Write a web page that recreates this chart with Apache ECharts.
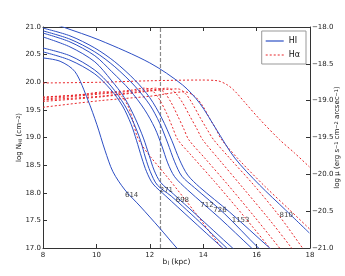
<!DOCTYPE html>
<html><head><meta charset="utf-8">
<script src="https://cdn.jsdelivr.net/npm/echarts@6/dist/echarts.min.js"></script>
<style>html,body{margin:0;padding:0;background:#fff}#c{width:345px;height:276px}</style>
</head><body><div id="c"></div>
<script>
// ---- data (b_l in kpc, log N_HI / log mu) ----
const xTicks = [8, 10, 12, 14, 16, 18];
const hi614 = [[8,20.44],[8.64,20.38],[9.20,20.19],[9.68,19.68],[10.02,19.23],[10.32,18.77],[10.62,18.38],[11.07,18.05],[11.63,17.76],[12.37,17.36],[13.01,17.00],[13.4,16.8]];
const hi271 = [[8,20.55],[9.01,20.40],[9.94,20.15],[10.55,19.86],[10.98,19.57],[11.30,19.24],[11.50,18.95],[11.70,18.63],[11.88,18.38],[12.12,18.16],[12.60,17.94],[13.50,17.54],[14.73,17.00],[15.1,16.85]];
const hi698 = [[8,20.62],[9.01,20.48],[9.94,20.22],[10.55,19.93],[11.05,19.59],[11.38,19.28],[11.65,18.95],[11.84,18.63],[12.02,18.38],[12.28,18.14],[12.80,17.94],[13.22,17.76],[13.87,17.47],[14.88,17.00],[15.2,16.87]];
const hiX = [[8,20.82],[9.01,20.64],[9.94,20.37],[10.55,20.04],[11.05,19.72],[11.45,19.35],[11.76,18.99],[11.98,18.67],[12.16,18.41],[12.40,18.19],[12.88,17.98],[13.70,17.62],[15.10,17.00],[15.4,16.88]];
const hi712 = [[8,20.89],[9.01,20.73],[9.94,20.48],[10.58,20.19],[11.25,19.86],[11.81,19.50],[12.19,19.17],[12.45,18.85],[12.67,18.54],[12.93,18.29],[13.42,18.05],[14.62,17.54],[15.81,17.00],[16.1,16.88]];
const hi726 = [[8,20.93],[9.01,20.78],[9.94,20.55],[10.69,20.28],[11.44,19.93],[12.00,19.59],[12.37,19.26],[12.67,18.90],[12.93,18.56],[13.20,18.30],[13.68,18.09],[14.80,17.62],[16.07,17.00],[16.4,16.87]];
const hi1153 = [[8,20.98],[9.01,20.84],[9.94,20.62],[10.69,20.37],[11.44,20.04],[12.00,19.72],[12.45,19.35],[12.82,18.95],[13.12,18.59],[13.42,18.32],[13.87,18.10],[14.99,17.65],[16.49,17.00],[16.8,16.88]];
const hi810 = [[8,21.13],[8.75,21.0],[10.13,20.76],[12.0,20.35],[13.23,19.95],[13.87,19.62],[14.5,19.14],[15.18,18.63],[16.11,18.14],[17.08,17.69],[17.98,17.27]];
const ha1 = [[8,-18.95],[9.38,-18.92],[10.32,-18.88],[10.69,-18.88],[10.95,-18.94],[11.18,-19.07],[11.36,-19.26],[11.51,-19.47],[11.70,-19.60],[12.00,-19.75],[12.75,-20.08],[13.68,-20.51],[14.69,-21.00],[15.0,-21.15]];
const ha2 = [[8,-18.96],[9.76,-18.91],[11.25,-18.86],[11.81,-18.83],[12.11,-18.87],[12.37,-18.99],[12.64,-19.18],[12.86,-19.37],[13.05,-19.53],[13.50,-19.72],[14.43,-20.10],[15.55,-20.58],[16.49,-21.00],[16.8,-21.15]];
const ha3 = [[8,-18.98],[10.13,-18.91],[11.63,-18.86],[12.22,-18.83],[12.52,-18.88],[12.79,-19.02],[13.05,-19.21],[13.27,-19.38],[13.46,-19.53],[14.06,-19.78],[14.99,-20.17],[15.93,-20.58],[16.86,-21.00],[17.2,-21.15]];
const ha4 = [[8,-18.99],[10.13,-18.94],[12.00,-18.86],[12.67,-18.83],[12.97,-18.90],[13.23,-19.03],[13.50,-19.21],[13.76,-19.38],[13.98,-19.53],[14.62,-19.81],[15.55,-20.21],[16.49,-20.62],[17.31,-21.00],[17.6,-21.15]];
const ha5 = [[8,-19.01],[10.13,-18.95],[12.00,-18.87],[13.05,-18.84],[13.35,-18.91],[13.61,-19.05],[13.87,-19.22],[14.13,-19.38],[14.39,-19.53],[14.99,-19.78],[15.93,-20.16],[16.86,-20.57],[17.72,-21.00],[18.0,-21.14]];
const ha6 = [[8,-19.09],[10.13,-19.00],[12.00,-18.94],[13.31,-18.88],[13.68,-18.94],[13.98,-19.07],[14.24,-19.24],[14.47,-19.38],[14.69,-19.53],[15.36,-19.81],[16.30,-20.16],[17.23,-20.48],[17.98,-20.74]];
const ha7 = [[8,-18.76],[10.13,-18.75],[12.00,-18.73],[13.87,-18.72],[14.54,-18.73],[14.92,-18.79],[15.21,-18.88],[15.55,-19.02],[16.11,-19.25],[16.86,-19.53],[17.42,-19.71],[17.98,-19.90]];
const cutB = 12.4;
const cloudLabels = [[11.32,17.96,'614'],[12.62,18.05,'271'],[13.22,17.87,'698'],[14.14,17.78,'712'],[14.63,17.69,'726'],[15.40,17.51,'1153'],[17.11,17.60,'810']];

const BLUE = '#2d4fc4', RED = '#e8262a', AX = '#333';
const FONT = 'DejaVu Sans';
const chart = echarts.init(document.getElementById('c'), null, {renderer:'canvas'});
const hiSets = [hi614, hi271, hi698, hiX, hi712, hi726, hi1153, hi810];
const haSets = [ha1, ha2, ha3, ha4, ha5, ha6, ha7];
const series = [];
hiSets.forEach(d => series.push({name:'HI', type:'line', data:d, xAxisIndex:0, yAxisIndex:0, symbol:'none', smooth:0.3, clip:true,
  lineStyle:{color:BLUE, width:1}, itemStyle:{color:BLUE}, z:3}));
haSets.forEach(d => series.push({name:'Hα', type:'line', data:d, xAxisIndex:0, yAxisIndex:1, symbol:'none', smooth:0.3, clip:true,
  lineStyle:{color:RED, width:1, type:[2,2]}, itemStyle:{color:RED}, z:2}));
series.push({type:'line', data:[[cutB,17],[cutB,21]], symbol:'none', lineStyle:{color:'#8a8a8a', width:1.2, type:[4,2]}, z:1, silent:true});
series.push({type:'scatter', data:cloudLabels, symbolSize:0, z:5, silent:true,
  label:{show:true, position:'inside', formatter:p=>p.data[2], color:'#111', fontFamily:FONT, fontSize:7}});

const tickStyle = {fontFamily:FONT, fontSize:7, color:'#222'};
chart.setOption({
  animation:false,
  grid:{left:43, right:35, top:27, bottom:28, containLabel:false, outerBoundsMode:'none'},
  legend:{orient:'vertical', right:39, top:31, itemWidth:18, itemHeight:2, itemGap:6,
    padding:[6,6,5,4], borderColor:'#999', borderWidth:1, backgroundColor:'#fff',
    textStyle:{fontFamily:FONT, fontSize:8, color:'#111'},
    data:[
      {name:'HI', icon:'path://M0,0H18V1.2H0Z', itemStyle:{color:BLUE}},
      {name:'Hα', icon:'path://M0,0H2V1.2H0ZM4,0H6V1.2H4ZM8,0H10V1.2H8ZM12,0H14V1.2H12ZM16,0H18V1.2H16Z', itemStyle:{color:RED}}
    ]},
  xAxis:[
    {type:'value', min:8, max:18, interval:2, position:'bottom',
     name:'{n|b}{s|l}{n| (kpc)}', nameLocation:'middle', nameGap:10, nameMoveOverlap:false,
     nameTextStyle:{fontFamily:FONT, color:'#111', rich:{n:{fontFamily:FONT,fontSize:7.5,color:'#111'}, s:{fontFamily:FONT,fontSize:5.5,color:'#111',verticalAlign:'bottom',padding:[3,0,0,0]}}},
     axisLine:{lineStyle:{color:AX,width:1}}, axisTick:{inside:true,length:4,lineStyle:{color:AX}},
     axisLabel:{...tickStyle, margin:4, formatter:v=>String(v)}, splitLine:{show:false}},
    {type:'value', min:8, max:18, interval:2, position:'top',
     axisLine:{lineStyle:{color:AX,width:1}}, axisTick:{inside:true,length:4,lineStyle:{color:AX}},
     axisLabel:{show:false}, splitLine:{show:false}}
  ],
  yAxis:[
    {type:'value', min:17, max:21, interval:0.5, position:'left',
     name:'log N{s|HI} (cm{p|−2})', nameLocation:'middle', nameGap:20, nameRotate:90, nameMoveOverlap:false,
     nameTextStyle:{fontFamily:FONT, fontSize:7, color:'#111', rich:{s:{fontFamily:FONT,fontSize:5,color:'#111',verticalAlign:'bottom'}, p:{fontFamily:FONT,fontSize:5,color:'#111',verticalAlign:'top'}}},
     axisLine:{lineStyle:{color:AX,width:1}}, axisTick:{inside:true,length:4,lineStyle:{color:AX}},
     axisLabel:{...tickStyle, margin:2, formatter:v=>v.toFixed(1)}, splitLine:{show:false}},
    {type:'value', min:-21, max:-18, interval:0.5, position:'right',
     name:'log μ (erg s{p|−1} cm{p|−2} arcsec{p|−1})', nameLocation:'middle', nameGap:24, nameRotate:90, nameMoveOverlap:false,
     nameTextStyle:{fontFamily:FONT, fontSize:7, color:'#111', rich:{p:{fontFamily:FONT,fontSize:5,color:'#111',verticalAlign:'top'}}},
     axisLine:{lineStyle:{color:AX,width:1}}, axisTick:{inside:true,length:4,lineStyle:{color:AX}},
     axisLabel:{...tickStyle, margin:2, formatter:v=>'−'+Math.abs(v).toFixed(1)}, splitLine:{show:false}}
  ],
  series
});
</script></body></html>
